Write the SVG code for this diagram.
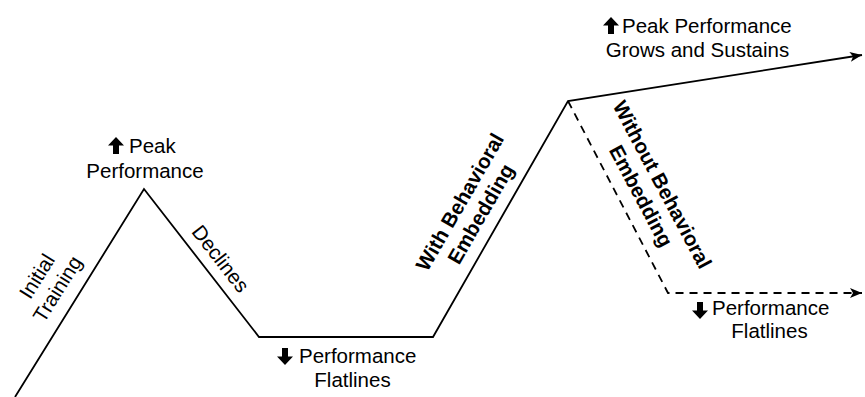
<svg xmlns="http://www.w3.org/2000/svg" width="865" height="397" viewBox="0 0 865 397">
<style>
.t{font-family:"Liberation Sans",Arial,sans-serif;font-size:20.5px;fill:#000}
.b{font-weight:bold}
.m{text-anchor:middle}
.ln{fill:none;stroke:#000;stroke-width:1.8;stroke-linejoin:miter}
.d{stroke-dasharray:8 6}
</style>
<defs>
<marker id="ah" markerUnits="userSpaceOnUse" markerWidth="14" markerHeight="12" refX="12" refY="5" orient="auto">
<path d="M0,0 L12,5 L0,10 L3,5 Z" fill="#000"/>
</marker>
<path id="up" d="M8,0 L16,8.5 L11,8.5 L11,17 L5,17 L5,8.5 L0,8.5 Z" fill="#000"/>
<path id="down" d="M5,0 L11,0 L11,8.5 L16,8.5 L8,17 L0,8.5 L5,8.5 Z" fill="#000"/>
</defs>
<g id="connectors">
<path class="ln" d="M15,397 L144,189 L259,337 L433,337 L568,101 L862,55" marker-end="url(#ah)"/>
<path class="ln d" d="M568,101 L668,293 L862,293" marker-end="url(#ah)"/>
</g>
<g id="initial-training" transform="translate(43,280) rotate(-58)">
<text class="t m" x="0" y="0">Initial</text>
<text class="t m" x="0" y="24">Training</text>
</g>
<g id="peak-performance">
<use href="#up" x="108" y="137"/>
<text class="t" x="129" y="153">Peak</text>
<text class="t m" x="145" y="178">Performance</text>
</g>
<g id="declines" transform="translate(215,263) rotate(52)">
<text class="t m" x="0" y="0">Declines</text>
</g>
<g id="flatlines-1">
<use href="#down" x="277" y="348"/>
<text class="t" x="299" y="363">Performance</text>
<text class="t m" x="352.5" y="387">Flatlines</text>
</g>
<g id="with-embedding" transform="translate(466,205.5) rotate(-60)">
<text class="t b m" x="0" y="0">With Behavioral</text>
<text class="t b m" x="0" y="24">Embedding</text>
</g>
<g id="without-embedding" transform="translate(656,188) rotate(62)">
<text class="t b m" x="0" y="0">Without Behavioral</text>
<text class="t b m" x="0" y="24">Embedding</text>
</g>
<g id="grows-sustains">
<use href="#up" x="603" y="17"/>
<text class="t" x="622" y="33">Peak Performance</text>
<text class="t m" x="697.5" y="57">Grows and Sustains</text>
</g>
<g id="flatlines-2">
<use href="#down" x="692" y="302"/>
<text class="t" x="712" y="315">Performance</text>
<text class="t m" x="769.5" y="338">Flatlines</text>
</g>
</svg>
